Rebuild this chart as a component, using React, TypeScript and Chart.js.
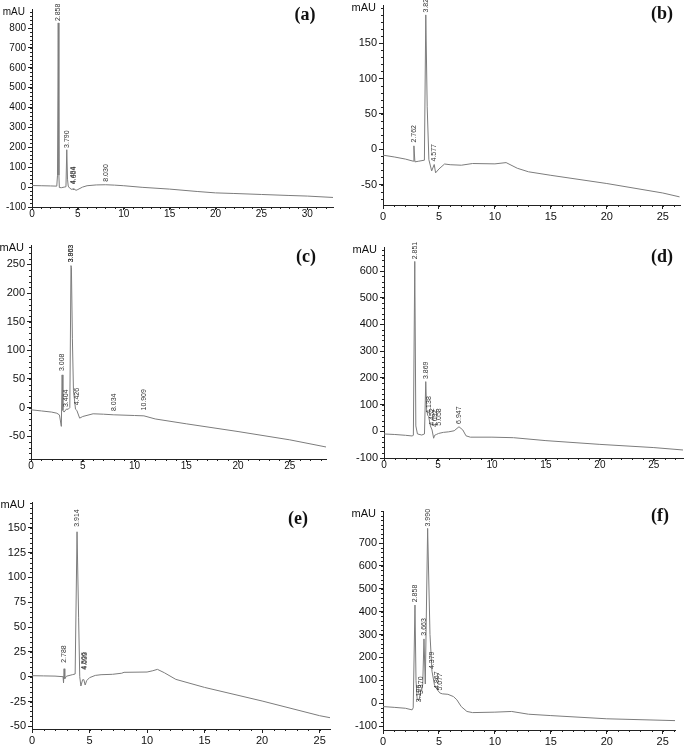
import React, { useEffect, useRef } from "react";
import { Chart, registerables } from "chart.js";
Chart.register(...registerables);

// ---------- Panel (a) ----------
const aTime = [0, 1, 2, 2.7, 2.78, 2.858, 2.93, 2.98, 3.2, 3.5, 3.7, 3.79, 3.87, 3.95, 4.1, 4.35, 4.494, 4.55, 4.604, 4.8, 5.0, 5.5, 6, 7, 8.03, 9, 10, 12, 15, 18, 20, 22, 25, 28, 30, 32.8];
const aSignal = [8, 7, 6, 5, 60, 826, 60, -2, -3, 0, 2, 188, 40, 5, -5, -12, -8, -14, -10, -16, -12, 0, 7, 11, 12, 10, 7, -1, -10, -22, -29, -32, -37, -42, -45, -52];
const aPeakNames = ["2.858", "3.790", "4.494", "4.604", "8.030"];
const aPeakAt = [830, 192, 10, 10, 22];
const aXTicks = [0, 5, 10, 15, 20, 25, 30];
const aYTicks = [-100, 0, 100, 200, 300, 400, 500, 600, 700, 800];

// ---------- Panel (b) ----------
const bTime = [0, 1, 2, 2.7, 2.762, 2.85, 3.2, 3.7, 3.824, 3.95, 4.1, 4.35, 4.577, 4.7, 5.0, 5.5, 6, 7, 8, 10, 11, 12, 13, 15, 20, 25, 26.5];
const bSignal = [-8.5, -11, -14, -17, 4.7, -18, -17, -15.6, 190, 60, -15, -30.7, -21.7, -33.5, -28, -21, -22, -22.7, -20.3, -20.8, -19, -27, -32, -37, -48.6, -62, -67.5];
const bPeakNames = ["2.762", "3.824", "4.577"];
const bPeakAt = [8, 192, -19];
const bXTicks = [0, 5, 10, 15, 20, 25];
const bYTicks = [-50, 0, 50, 100, 150];

// ---------- Panel (c) ----------
const cTime = [0, 1, 2, 2.5, 2.75, 2.93, 3.008, 3.08, 3.2, 3.404, 3.6, 3.75, 3.863, 3.903, 4.0, 4.1, 4.3, 4.426, 4.7, 5, 6, 7, 8, 8.034, 10, 10.909, 12, 15, 20, 25, 28.5];
const cSignal = [-4, -6, -8, -10, -13, -33, 57, -5, -8, -3, -3, 0, 248, 245, 120, 30, -3, -5, -18.6, -15.7, -11, -11.7, -12.8, -12.8, -14, -14.6, -20, -28.5, -42, -56.5, -69];
const cPeakNames = ["3.008", "3.404", "3.863", "3.903", "4.426", "8.034", "10.909"];
const cPeakAt = [62, -1, 252, 252, 2, -8, -7];
const cXTicks = [0, 5, 10, 15, 20, 25];
const cYTicks = [-50, 0, 50, 100, 150, 200, 250];

// ---------- Panel (d) ----------
const dTime = [0, 1, 2, 2.6, 2.72, 2.851, 2.95, 3.1, 3.5, 3.75, 3.869, 3.95, 4.05, 4.138, 4.3, 4.452, 4.6, 4.69, 4.85, 5.058, 5.5, 6, 6.5, 6.947, 7.3, 7.6, 8, 10, 12, 15, 20, 25, 27.7];
const dSignal = [-10, -12, -15, -17.5, -15, 636, 20, -10, -14, -10, 186, 80, 60, 55, 20, 5, -26, -15, -12, -8, -4, -2, 2, 17, 5, -17, -22, -22, -24, -35, -49, -61, -70];
const dPeakNames = ["2.851", "3.869", "4.138", "4.452", "4.692", "5.058", "6.947"];
const dPeakAt = [640, 192, 62, 17, 12, 17, 24];
const dXTicks = [0, 5, 10, 15, 20, 25];
const dYTicks = [-100, 0, 100, 200, 300, 400, 500, 600];

// ---------- Panel (e) ----------
const eTime = [0, 1, 2, 2.7, 2.74, 2.788, 2.85, 3.0, 3.5, 3.75, 3.914, 4.05, 4.15, 4.25, 4.4, 4.506, 4.62, 4.75, 5, 5.5, 6, 7, 7.8, 8, 10, 10.5, 10.9, 11.5, 12.5, 15, 20, 25, 25.9];
const eSignal = [1, 0.8, 0.6, 0, -6, 8, -2, 0.5, 2, 2.7, 146, 60, 0, -9.4, -3, -3, -8.4, -4, -1, 1.3, 2, 2.4, 3.5, 4.4, 4.7, 6, 7.4, 4, -2.7, -10.8, -24.5, -39.3, -41.3];
const ePeakNames = ["2.788", "3.914", "4.506", "4.633"];
const ePeakAt = [13, 150, 6, 6];
const eXTicks = [0, 5, 10, 15, 20, 25];
const eYTicks = [-50, -25, 0, 25, 50, 75, 100, 125, 150];

// ---------- Panel (f) ----------
const fTime = [0, 1, 2, 2.6, 2.7, 2.858, 2.95, 3.05, 3.196, 3.37, 3.55, 3.663, 3.78, 3.99, 4.2, 4.379, 4.6, 4.867, 5.077, 5.3, 5.8, 6.3, 6.6, 7, 7.5, 8, 10, 11.5, 13, 15, 20, 26.1];
const fSignal = [-14.6, -18, -22, -29, -20, 429, 100, 20, 10, 50, 80, 281, 84, 764, 300, 140, 80, 58, 45, 41, 39, 29, 15, -15, -36, -41, -39, -36, -48, -54, -68, -76];
const fPeakNames = ["2.858", "3.196", "3.370", "3.663", "3.990", "4.379", "4.867", "5.077"];
const fPeakAt = [437, 0, 36, 291, 768, 145, 58, 51];
const fXTicks = [0, 5, 10, 15, 20, 25];
const fYTicks = [-100, 0, 100, 200, 300, 400, 500, 600, 700];

const PANELS = [
  { key: "a", letter: "(a)", time: aTime, signal: aSignal, peaks: aPeakNames, peakAt: aPeakAt, xTicks: aXTicks, yTicks: aYTicks, xMax: 32.8, yMin: -100, yMax: 896, left: 32, right: 333, top: 9, bottom: 207, canvasLeft: 0, letterX: 305, letterY: 14, yMinor: 20, yFont: 10, xFont: 10, xPad: -2, xTick: 3 },
  { key: "b", letter: "(b)", time: bTime, signal: bSignal, peaks: bPeakNames, peakAt: bPeakAt, xTicks: bXTicks, yTicks: bYTicks, xMax: 26.54, yMin: -79, yMax: 204, left: 383, right: 680, top: 5, bottom: 205, canvasLeft: 340, letterX: 662, letterY: 13, yMinor: 10, yFont: 11, xFont: 11, xPad: 1, xTick: 4 },
  { key: "c", letter: "(c)", time: cTime, signal: cSignal, peaks: cPeakNames, peakAt: cPeakAt, xTicks: cXTicks, yTicks: cYTicks, xMax: 28.5, yMin: -90, yMax: 284, left: 31, right: 326, top: 245, bottom: 459, canvasLeft: 0, letterX: 306, letterY: 256, yMinor: 10, yFont: 11, xFont: 10, xPad: -2, xTick: 3 },
  { key: "d", letter: "(d)", time: dTime, signal: dSignal, peaks: dPeakNames, peakAt: dPeakAt, xTicks: dXTicks, yTicks: dYTicks, xMax: 27.7, yMin: -100, yMax: 690, left: 384, right: 683, top: 247, bottom: 458, canvasLeft: 340, letterX: 662, letterY: 256, yMinor: 20, yFont: 11, xFont: 10, xPad: -2, xTick: 3 },
  { key: "e", letter: "(e)", time: eTime, signal: eSignal, peaks: ePeakNames, peakAt: ePeakAt, xTicks: eXTicks, yTicks: eYTicks, xMax: 25.9, yMin: -52.7, yMax: 176, left: 32, right: 330, top: 502, bottom: 729, canvasLeft: 0, letterX: 298, letterY: 518, yMinor: 5, yFont: 11, xFont: 11, xPad: 1, xTick: 4 },
  { key: "f", letter: "(f)", time: fTime, signal: fSignal, peaks: fPeakNames, peakAt: fPeakAt, xTicks: fXTicks, yTicks: fYTicks, xMax: 26.1, yMin: -117, yMax: 840, left: 383, right: 675, top: 511, bottom: 730, canvasLeft: 340, letterX: 660, letterY: 515, yMinor: 20, yFont: 11, xFont: 11, xPad: 1, xTick: 4 },
];

const FONT = "Liberation Sans";
const AXIS = "#222";

function Chromatogram({ p }: { p: any }) {
  const ref = useRef<HTMLCanvasElement>(null);
  const PAD_TOP = 14;
  const PAD_RIGHT = 10;
  const XH = 26;
  const cTop = p.top - PAD_TOP;
  const width = p.right + PAD_RIGHT - p.canvasLeft;
  const height = p.bottom - cTop + XH;

  useEffect(() => {
    const overlay = {
      id: "overlay",
      afterDraw(chart: any) {
        const { ctx, chartArea } = chart;
        const xs = chart.scales.x;
        const ys = chart.scales.y;
        ctx.save();
        // minor ticks
        ctx.strokeStyle = AXIS;
        ctx.lineWidth = 1;
        ctx.beginPath();
        const y0 = Math.ceil(ys.min / p.yMinor);
        const y1 = Math.floor(ys.max / p.yMinor);
        for (let k = y0; k <= y1; k++) {
          const py = Math.round(ys.getPixelForValue(k * p.yMinor)) + 0.5;
          ctx.moveTo(chartArea.left - 2, py);
          ctx.lineTo(chartArea.left, py);
        }
        const x1 = Math.floor(xs.max);
        for (let k = 0; k <= x1; k++) {
          const px = Math.round(xs.getPixelForValue(k)) + 0.5;
          ctx.moveTo(px, chartArea.bottom);
          ctx.lineTo(px, chartArea.bottom + 2);
        }
        ctx.stroke();
        // mAU unit label
        ctx.fillStyle = "#111";
        ctx.font = `${p.yFont}px "${FONT}"`;
        ctx.textAlign = "right";
        ctx.textBaseline = "middle";
        ctx.fillText("mAU", chartArea.left - 7, chartArea.top + 3);
        // peak retention-time labels
        ctx.font = `7px "${FONT}"`;
        ctx.fillStyle = "#333";
        ctx.textAlign = "left";
        ctx.textBaseline = "middle";
        p.peaks.forEach((name: string, i: number) => {
          const px = xs.getPixelForValue(parseFloat(name));
          const py = ys.getPixelForValue(p.peakAt[i]);
          ctx.save();
          ctx.translate(px, py - 1);
          ctx.rotate(-Math.PI / 2);
          ctx.fillText(name, 0, 0);
          ctx.restore();
        });
        ctx.restore();
      },
    };

    const chart = new Chart(ref.current as HTMLCanvasElement, {
      type: "line",
      data: {
        datasets: [
          {
            data: p.time.map((t: number, i: number) => ({ x: t, y: p.signal[i] })),
            borderColor: "#7c7c7c",
            borderWidth: 1,
            pointRadius: 0,
            tension: 0,
            fill: false,
          },
        ],
      },
      options: {
        responsive: false,
        animation: false,
        devicePixelRatio: 1,
        events: [],
        layout: { padding: { top: PAD_TOP, right: PAD_RIGHT, left: 0, bottom: 0 } },
        plugins: { legend: { display: false }, tooltip: { enabled: false }, title: { display: false } },
        scales: {
          x: {
            type: "linear",
            min: 0,
            max: p.xMax,
            afterBuildTicks: (s: any) => {
              s.ticks = p.xTicks.map((v: number) => ({ value: v }));
            },
            afterFit: (s: any) => {
              s.height = XH;
            },
            ticks: {
              autoSkip: false,
              maxRotation: 0,
              padding: p.xPad,
              color: "#111",
              font: { family: FONT, size: p.xFont },
              callback: (v: any) => String(v),
            },
            grid: { drawOnChartArea: false, drawTicks: true, tickLength: p.xTick, color: AXIS },
            border: { display: true, color: AXIS, width: 1 },
          },
          y: {
            type: "linear",
            min: p.yMin,
            max: p.yMax,
            afterBuildTicks: (s: any) => {
              s.ticks = p.yTicks.map((v: number) => ({ value: v }));
            },
            afterFit: (s: any) => {
              s.width = p.left - p.canvasLeft;
            },
            ticks: {
              autoSkip: false,
              padding: 2,
              color: "#111",
              font: { family: FONT, size: p.yFont },
              callback: (v: any) => String(v),
            },
            grid: { drawOnChartArea: false, drawTicks: true, tickLength: 4, color: AXIS },
            border: { display: true, color: AXIS, width: 1 },
          },
        },
      } as any,
      plugins: [overlay],
    });
    return () => chart.destroy();
  }, []);

  return (
    <canvas
      ref={ref}
      width={width}
      height={height}
      style={{ position: "absolute", left: p.canvasLeft, top: cTop, width, height }}
    />
  );
}

export default function App() {
  return (
    <div style={{ position: "fixed", left: 0, top: 0, width: 685, height: 748, background: "#fff", overflow: "hidden" }}>
      {PANELS.map((p) => (
        <Chromatogram key={p.key} p={p} />
      ))}
      {PANELS.map((p) => (
        <div
          key={"l" + p.key}
          style={{
            position: "absolute",
            left: p.letterX,
            top: p.letterY,
            transform: "translate(-50%, -50%)",
            font: 'bold 18px "Liberation Serif", serif',
            color: "#111",
            whiteSpace: "nowrap",
          }}
        >
          {p.letter}
        </div>
      ))}
    </div>
  );
}
